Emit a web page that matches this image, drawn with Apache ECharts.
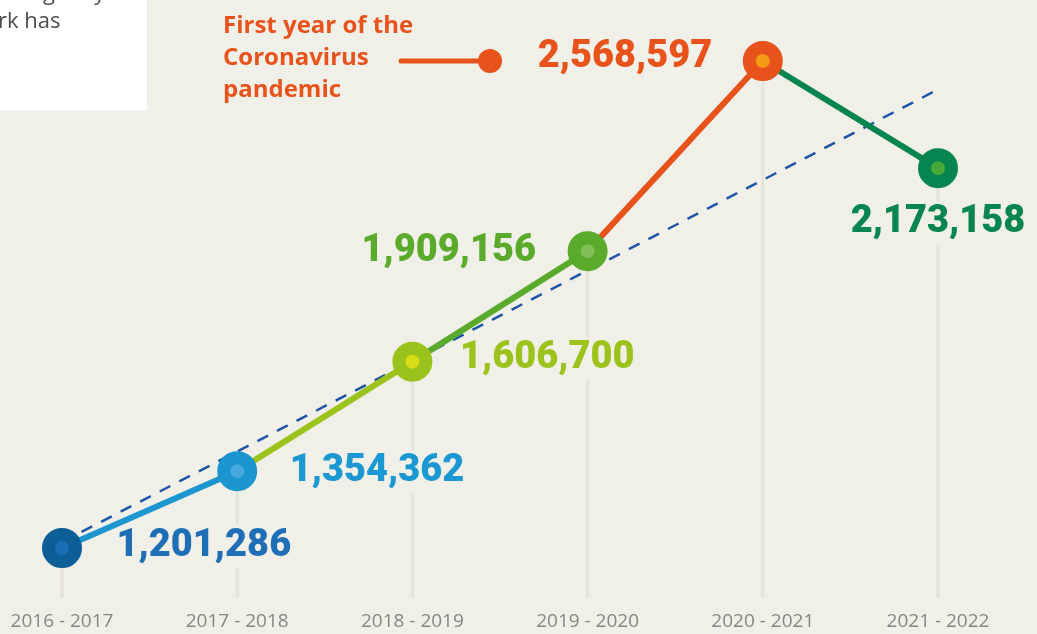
<!DOCTYPE html>
<html>
<head>
<meta charset="utf-8">
<script src="https://cdn.jsdelivr.net/npm/echarts@6/dist/echarts.min.js"></script>
<style>
html,body{margin:0;padding:0;background:#f1f0e8;}
#c{width:1037px;height:634px;}
</style>
</head>
<body>
<div id="c"></div>
<script>
// ---- data ----
const categories = ['2016 - 2017','2017 - 2018','2018 - 2019','2019 - 2020','2020 - 2021','2021 - 2022'];
const parcels = [1201286, 1354362, 1606700, 1909156, 2568597, 2173158];
const trendStart = 1212600;
const trendEnd = 2456900;
const annotationText = ['First year of the','Coronavirus','pandemic'];
const introLines = ['gently','rk has'];

// ---- styling (not data) ----
const BG = '#f1f0e8';
const outerColors = ['#0b5e96','#1a95cf','#9ac21c','#5aaa2c','#e8531c','#07854e'];
const innerColors = ['#1b6db5','#45a9de','#d8dd16','#80bd57','#f39c14','#48a838'];
const labelColors = ['#1e6fb6','#1b98d2','#9cc31c','#5aaa2c','#e8531c','#07854e'];
const segColors  = ['#1b96cf','#9bc31b','#5aaa2c','#e8531c','#07854e'];
const labelPlace = [
  {position:'right', distance:37, offset:[0,-2]},
  {position:'right', distance:35, offset:[0,0]},
  {position:'right', distance:30, offset:[0,-3]},
  {position:'left',  distance:34, offset:[0,0]},
  {position:'left',  distance:33, offset:[0,-3]},
  {position:'bottom',distance:20, offset:[0,0]}
];
const Y_MIN = 1111120, Y_MAX = 2781370;

const fmt = v => v.toLocaleString('en-US');

const chart = echarts.init(document.getElementById('c'), null, {renderer:'canvas'});

const segmentSeries = segColors.map((col, i) => ({
  type:'line',
  z:4,
  data: parcels.map((v,j) => (j===i || j===i+1) ? v : null),
  symbol:'none',
  lineStyle:{color:col, width:6, cap:'round', opacity:1},
  silent:true
}));

const option = {
  backgroundColor: BG,
  animation:false,
  grid:{left:62, right:99, top:10, bottom:36},
  xAxis:{
    type:'category',
    data:categories,
    boundaryGap:false,
    axisLine:{show:false},
    axisTick:{show:false},
    splitLine:{show:false},
    axisLabel:{color:'#878681', fontSize:19, fontFamily:'Open Sans', fontWeight:400, margin:14}
  },
  yAxis:{
    type:'log',
    min:Y_MIN, max:Y_MAX,
    startValue:Y_MIN,
    show:false,
    splitLine:{show:false}
  },
  series:[
    {
      type:'bar', z:1, barWidth:3, clip:true,
      data:parcels,
      itemStyle:{color:'#e4e3dc', opacity:1},
      silent:true
    },
    {
      type:'scatter', z:2,
      symbolSize:27,
      itemStyle:{color:'rgba(0,0,0,0)', opacity:1},
      data: parcels.map((v,i) => ({
        value:v,
        label:{
          show:true,
          position:labelPlace[i].position,
          distance:labelPlace[i].distance,
          offset:labelPlace[i].offset,
          formatter: fmt(v),
          color:labelColors[i],
          opacity:1,
          fontFamily:'Roboto',
          fontWeight:900,
          fontSize:38,
          lineHeight:38,
          backgroundColor:BG,
          padding:[2,4]
        }
      })),
      silent:true
    },
    {
      type:'line', z:3,
      data: parcels.map((v,j) => j===0 ? trendStart : (j===parcels.length-1 ? trendEnd : null)),
      connectNulls:true,
      symbol:'none',
      lineStyle:{color:'#1f55a8', width:2.5, type:[12,10], opacity:1},
      silent:true
    },
    ...segmentSeries,
    {
      type:'scatter', z:5,
      symbol:'circle',
      symbolSize:27,
      data: parcels.map((v,i) => ({
        value:v,
        itemStyle:{color:innerColors[i], borderColor:outerColors[i], borderWidth:13, opacity:1}
      })),
      silent:true
    }
  ],
  graphic:[
    {type:'rect', shape:{x:0,y:0,width:147,height:110}, style:{fill:'#ffffff'}, z:0},
    {type:'text', x:43, y:-6, style:{text:introLines[0], font:'22px "Open Sans"', fill:'#4d4d4d', verticalAlign:'middle'}},
    {type:'text', x:-2, y:22, style:{text:introLines[1], font:'22px "Open Sans"', fill:'#4d4d4d', verticalAlign:'middle'}},
    {type:'text', x:223, y:10, style:{text:annotationText.join('\n'), font:'bold 24px "Open Sans"', lineHeight:32, fill:'#e8531c', verticalAlign:'top'}},
    {type:'line', shape:{x1:401,y1:61,x2:488,y2:61}, style:{stroke:'#e8531c', lineWidth:5, lineCap:'round'}},
    {type:'circle', shape:{cx:490,cy:61,r:12}, style:{fill:'#e8531c'}}
  ]
};
chart.setOption(option);
</script>
</body>
</html>
